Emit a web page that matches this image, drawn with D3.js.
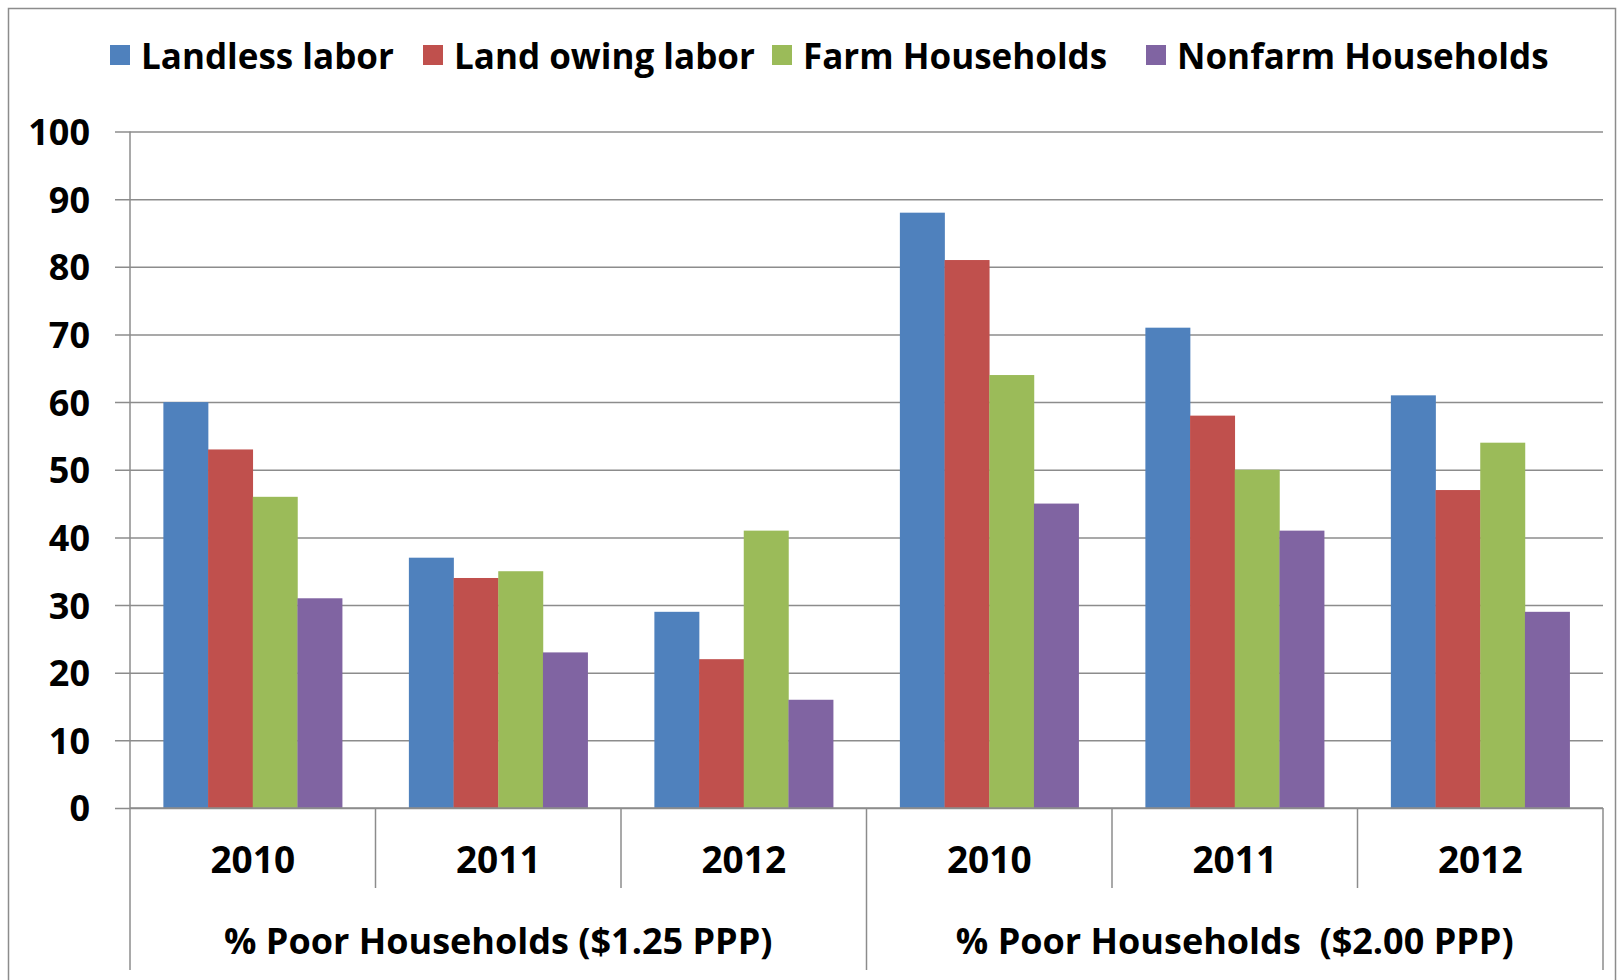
<!DOCTYPE html>
<html>
<head>
<meta charset="utf-8">
<script src="https://cdn.jsdelivr.net/npm/d3@7"></script>
<style>
html,body{margin:0;padding:0;background:#fff;}
svg{display:block;}
text{font-family:"Open Sans",Lato,sans-serif;font-weight:bold;fill:#000;}
</style>
</head>
<body>
<svg id="chart" width="1619" height="980"></svg>
<script>
// ---- data ----
const seriesNames = ["Landless labor", "Land owing labor", "Farm Households", "Nonfarm Households"];
const seriesColors = ["#4F81BD", "#C0504D", "#9BBB59", "#8064A2"];
const groupLabels = ["% Poor Households ($1.25 PPP)", "% Poor Households  ($2.00 PPP)"];
const yearLabels = ["2010", "2011", "2012"];
const landless   = [60, 37, 29, 88, 71, 61];
const landOwing  = [53, 34, 22, 81, 58, 47];
const farm       = [46, 35, 41, 64, 50, 54];
const nonfarm    = [31, 23, 16, 45, 41, 29];
const yTicks = [0, 10, 20, 30, 40, 50, 60, 70, 80, 90, 100];

const seriesValues = [landless, landOwing, farm, nonfarm];
const categories = [];
groupLabels.forEach((g, gi) => yearLabels.forEach((yr, yi) => categories.push({key: gi + "-" + yr, group: gi, year: yr})));

// ---- layout ----
const svg = d3.select("#chart");
const W = 1619, H = 980;
const pLeft = 130, pRight = 1603, pTop = 131.5, pBottom = 808;

svg.append("rect").attr("x", 8.5).attr("y", 8.5).attr("width", W - 12).attr("height", H + 20)
  .attr("fill", "none").attr("stroke", "#8c8c8c").attr("stroke-width", 1.5);

const x0 = d3.scaleBand().domain(categories.map(c => c.key)).range([pLeft, pRight]).paddingInner(0).paddingOuter(0);
const x1 = d3.scaleBand().domain(seriesNames).range([0, x0.bandwidth()]).paddingInner(0).paddingOuter(0.747);
const y = d3.scaleLinear().domain([0, 100]).range([pBottom, pTop]);

// gridlines + y axis
const yAxis = d3.axisLeft(y).tickValues(yTicks).tickSize(-(pRight - pLeft)).tickPadding(26).tickSizeOuter(0);
const gy = svg.append("g").attr("transform", `translate(${pLeft},0)`).call(yAxis);
gy.select(".domain").remove();
gy.selectAll(".tick line").attr("stroke", "#8c8c8c").attr("stroke-width", 1.5).attr("x1", -15);
gy.selectAll(".tick text").style("font-size", "36px").attr("x", -40).attr("dy", "0.36em")
  .style("font-family", "'Open Sans', sans-serif").style("font-weight", "bold").attr("fill", "#000");

// bars
const rows = [];
categories.forEach((c, ci) => seriesNames.forEach((s, si) => rows.push({cat: c.key, s, v: seriesValues[si][ci], color: seriesColors[si]})));
svg.append("g").selectAll("rect").data(rows).join("rect")
  .attr("x", d => x0(d.cat) + x1(d.s))
  .attr("width", x1.bandwidth() + 0.3)
  .attr("y", d => y(d.v))
  .attr("height", d => y(0) - y(d.v))
  .attr("fill", d => d.color);

// y axis line
svg.append("line").attr("x1", pLeft).attr("x2", pLeft).attr("y1", pTop).attr("y2", pBottom)
  .attr("stroke", "#8c8c8c").attr("stroke-width", 1.5);
// category axis line
svg.append("line").attr("x1", pLeft).attr("x2", pRight).attr("y1", pBottom).attr("y2", pBottom)
  .attr("stroke", "#8c8c8c").attr("stroke-width", 1.5);

// category separators
const yearSepBottom = 888, groupSepBottom = 970;
const sepXs = [];
categories.forEach((c, i) => { if (i > 0) sepXs.push({x: x0(c.key), groupEdge: c.year === yearLabels[0]}); });
sepXs.unshift({x: pLeft, groupEdge: true});
sepXs.push({x: pRight, groupEdge: true});
svg.append("g").selectAll("line").data(sepXs).join("line")
  .attr("x1", d => d.x).attr("x2", d => d.x)
  .attr("y1", pBottom).attr("y2", d => d.groupEdge ? groupSepBottom : yearSepBottom)
  .attr("stroke", "#8c8c8c").attr("stroke-width", 1.5);

// year labels
svg.append("g").selectAll("text").data(categories).join("text")
  .attr("x", d => x0(d.key) + x0.bandwidth() / 2)
  .attr("y", 860).attr("dy", "0.36em").attr("text-anchor", "middle")
  .style("font-size", "37px").text(d => d.year);

// group labels
svg.append("g").selectAll("text").data(groupLabels).join("text")
  .attr("x", (d, i) => {
    const a = x0(i + "-" + yearLabels[0]);
    const b = x0(i + "-" + yearLabels[yearLabels.length - 1]) + x0.bandwidth();
    return (a + b) / 2;
  })
  .attr("y", 941).attr("dy", "0.36em").attr("text-anchor", "middle")
  .style("font-size", "36px").style("white-space", "pre").attr("xml:space", "preserve").text(d => d);

// legend
const legendStartX = [110, 423, 772, 1146];
const lg = svg.append("g").selectAll("g").data(seriesNames).join("g")
  .attr("transform", (d, i) => `translate(${legendStartX[i]},0)`);
lg.append("rect").attr("x", 0).attr("y", 45).attr("width", 20).attr("height", 20).attr("fill", (d, i) => seriesColors[i]);
lg.append("text").attr("x", 31).attr("y", 56).attr("dy", "0.36em").style("font-size", "35px").text(d => d);
</script>
</body>
</html>
